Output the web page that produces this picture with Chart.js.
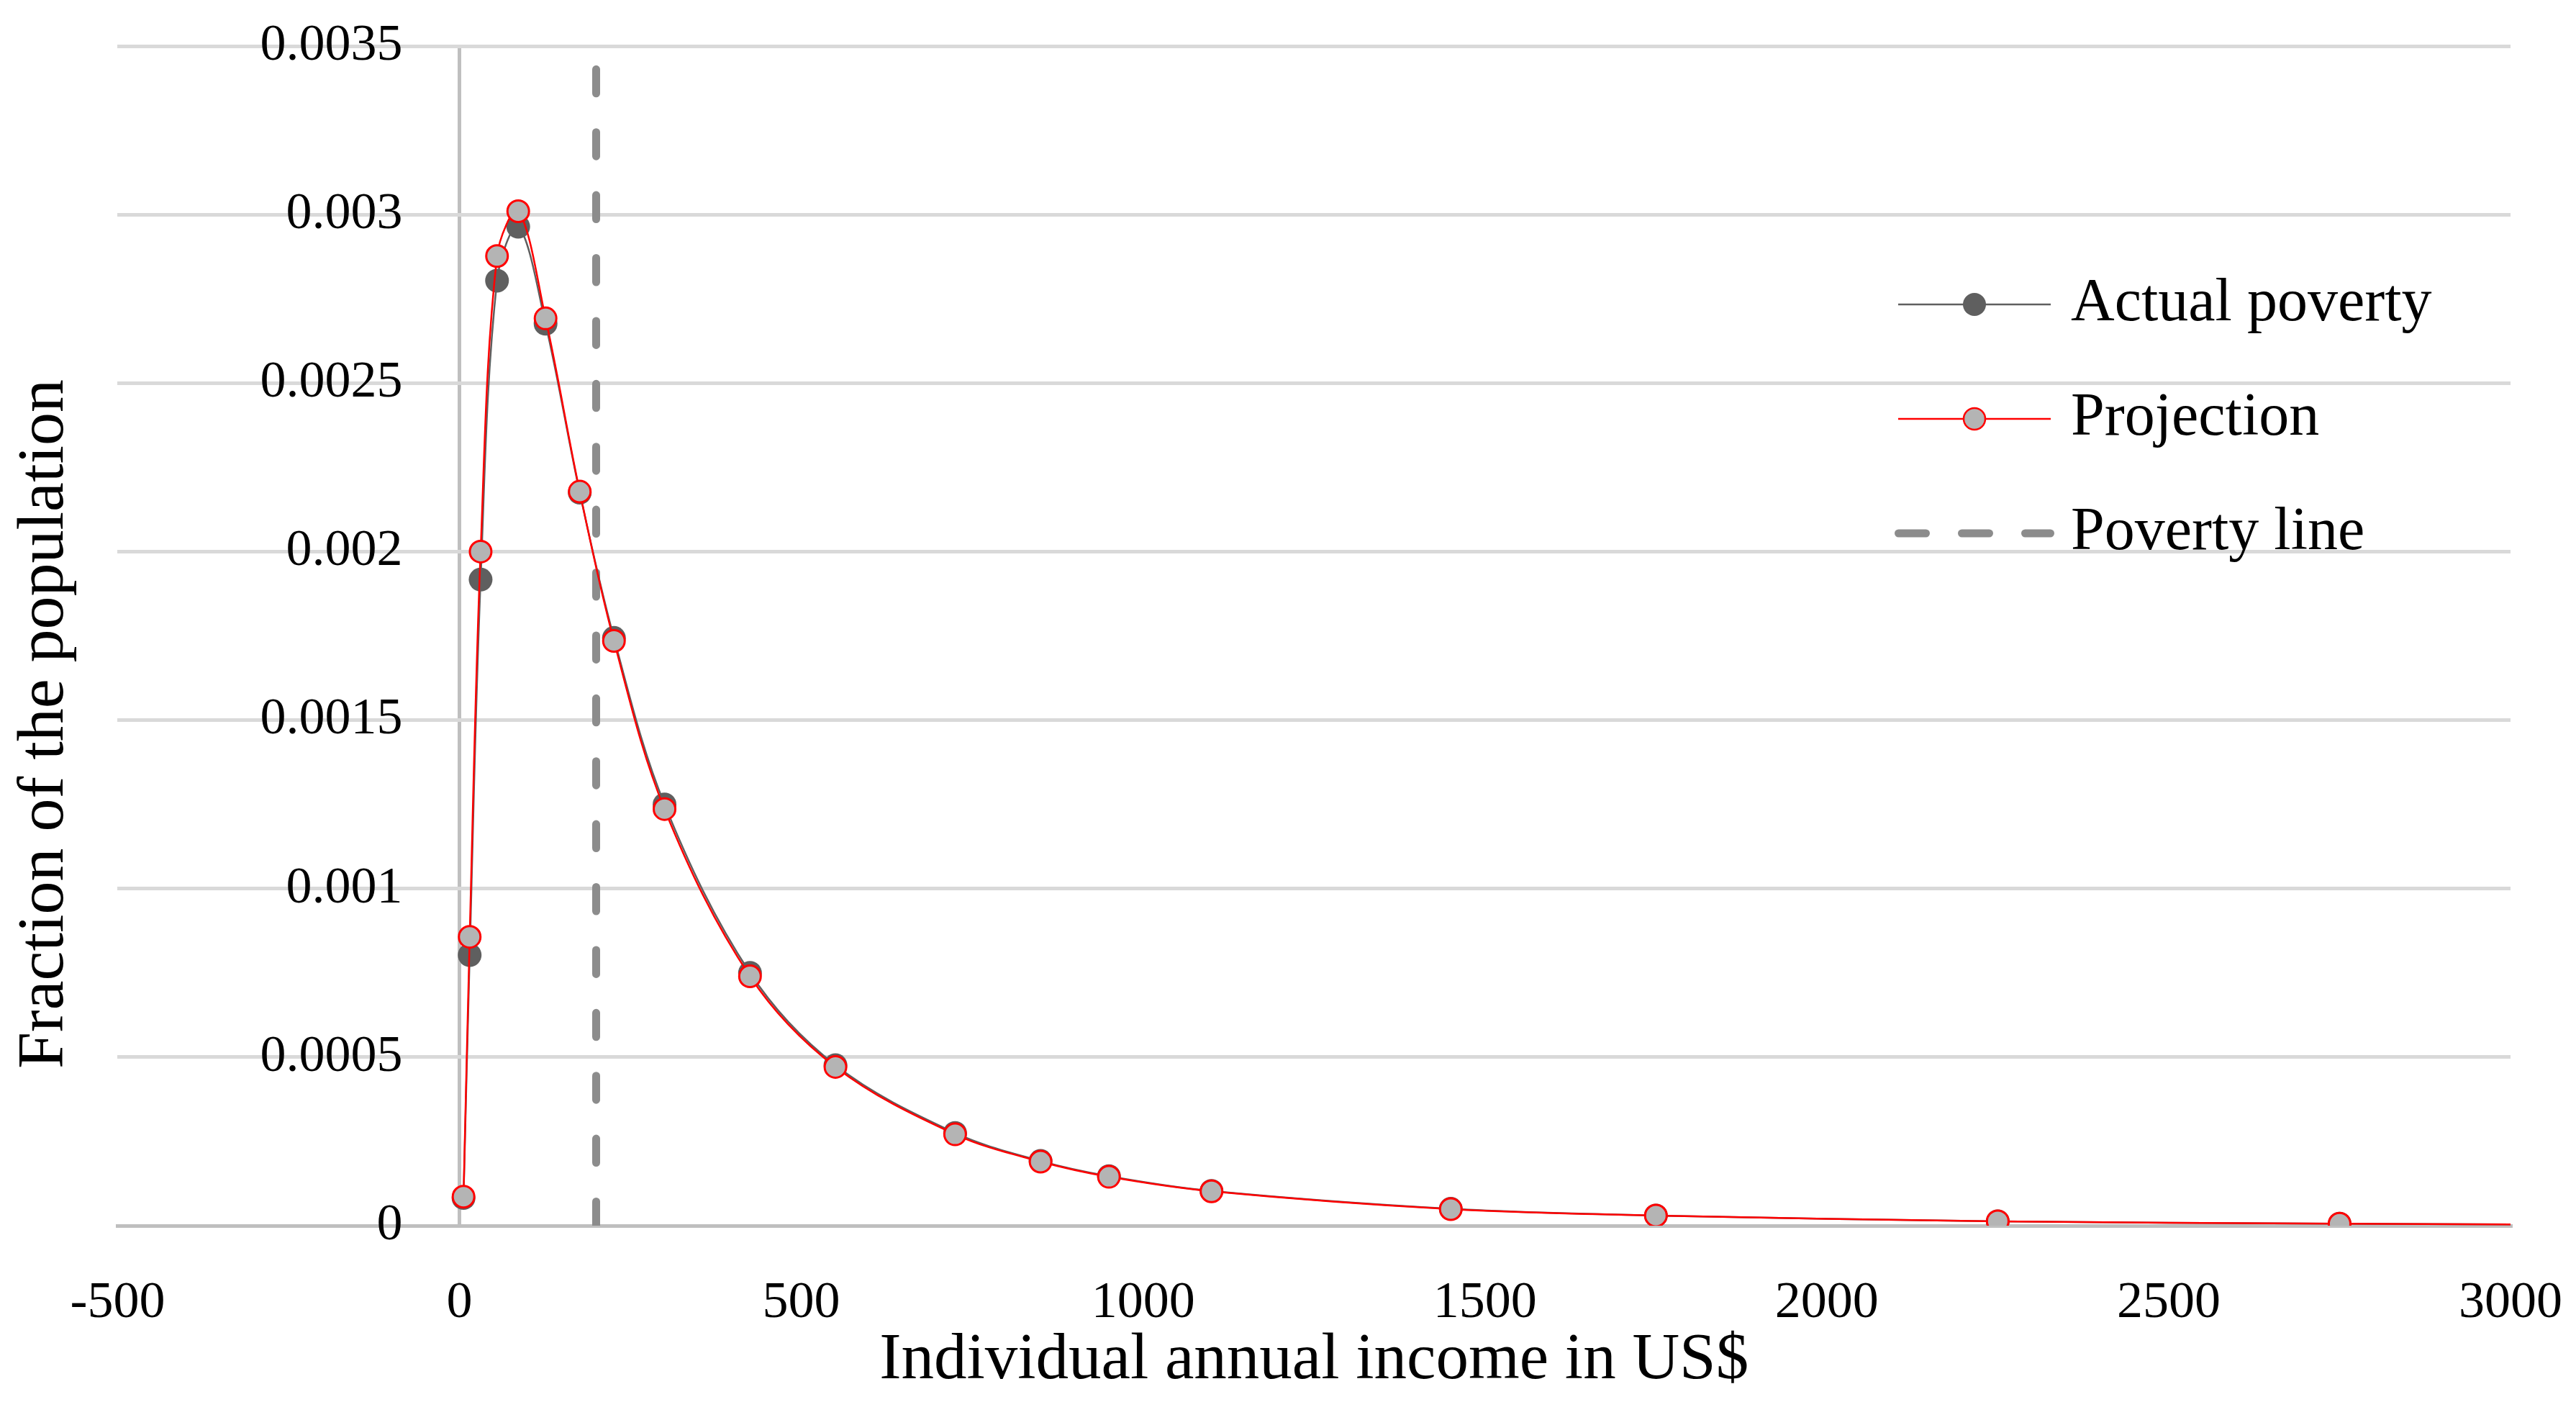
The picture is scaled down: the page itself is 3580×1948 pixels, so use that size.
<!DOCTYPE html>
<html>
<head>
<meta charset="utf-8">
<script src="https://cdn.jsdelivr.net/npm/chart.js@4.4.1/dist/chart.umd.min.js"></script>
<style>
  html, body { margin: 0; padding: 0; background: #fff; overflow: hidden; }
  #wrap { width: 3580px; height: 1948px; }
</style>
</head>
<body>
<div id="wrap"><canvas id="myChart"></canvas></div>
<script>
// income (US$) of each point and the fraction of the population
var incomeX = [6, 15, 31, 55, 86, 126, 176, 226, 300, 425, 550, 725, 850, 950, 1100, 1450, 1750, 2250, 2750, 3000];
var actualPoverty = [0.000082, 0.000803, 0.001917, 0.002804, 0.002964, 0.002676, 0.002175, 0.001744, 0.00125, 0.00075,
                     0.000476, 0.000275, 0.000192, 0.000147, 0.000103, 0.00005, 0.00003, 0.000013, 0.000006, 0.000004];
var projection = [0.000086, 0.000857, 0.002, 0.002877, 0.00301, 0.002692, 0.002178, 0.001735, 0.001236, 0.00074,
                  0.000471, 0.000271, 0.00019, 0.000145, 0.000102, 0.000049, 0.00003, 0.000013, 0.000006, 0.000004];
var povertyLineX = 200;
var povertyLineY = [0, 0.0035];

var xTickValues = [-500, 0, 500, 1000, 1500, 2000, 2500, 3000];
var xTickLabels = ["-500", "0", "500", "1000", "1500", "2000", "2500", "3000"];
var yTickValues = [0, 0.0005, 0.001, 0.0015, 0.002, 0.0025, 0.003, 0.0035];
var yTickLabels = ["0", "0.0005", "0.001", "0.0015", "0.002", "0.0025", "0.003", "0.0035"];
var seriesNames = ["Actual poverty", "Projection", "Poverty line"];

Chart.defaults.font.family = "'Liberation Serif', 'Times New Roman', serif";
Chart.defaults.color = "#000";

var lastIdx = incomeX.length - 1;

// little pictures for the legend (line + marker, dashed line)
function swatch(w, draw) {
  var c = document.createElement("canvas");
  c.width = w; c.height = 40;
  draw(c.getContext("2d"));
  return c;
}
var swActual = swatch(212, function (g) {
  g.strokeStyle = "#5f5f5f"; g.lineWidth = 2.5;
  g.beginPath(); g.moveTo(0, 20); g.lineTo(212, 20); g.stroke();
  g.fillStyle = "#5f5f5f";
  g.beginPath(); g.arc(106, 20, 16, 0, Math.PI * 2); g.fill();
});
var swProj = swatch(212, function (g) {
  g.strokeStyle = "#ff0000"; g.lineWidth = 2.5;
  g.beginPath(); g.moveTo(0, 20); g.lineTo(212, 20); g.stroke();
  g.fillStyle = "#b4b4b4";
  g.beginPath(); g.arc(106, 20, 15, 0, Math.PI * 2); g.fill(); g.stroke();
});
var swPov = swatch(222, function (g) {
  g.strokeStyle = "#8c8c8c"; g.lineWidth = 11; g.lineCap = "round";
  g.setLineDash([38, 50]);
  g.beginPath(); g.moveTo(5.5, 20); g.lineTo(216.5, 20); g.stroke();
});
var swatches = [swActual, swProj, swPov];

// put the legend inside the plot, on the right
var legendSpot = {
  id: "legendSpot",
  afterLayout: function (chart) {
    var lg = chart.legend;
    var a = chart.chartArea;
    lg.left = a.right - 912;
    lg.top = a.top + 242;
    lg.right = lg.left + lg.width;
    lg.bottom = lg.top + 900;
  }
};

new Chart("myChart", {
  type: "line",
  data: {
    datasets: [
      {
        label: seriesNames[0],
        data: incomeX.map(function (x, i) { return {x: x, y: actualPoverty[i]}; }),
        borderColor: "#5f5f5f",
        borderWidth: 2.5,
        pointBackgroundColor: "#5f5f5f",
        pointBorderColor: "#5f5f5f",
        pointBorderWidth: 0,
        pointRadius: function (c) { return c.dataIndex === lastIdx ? 0 : 16.5; },
        tension: 0.35,
        fill: false,
        order: 1
      },
      {
        label: seriesNames[1],
        data: incomeX.map(function (x, i) { return {x: x, y: projection[i]}; }),
        borderColor: "#ff0000",
        borderWidth: 2.5,
        pointBackgroundColor: "#b4b4b4",
        pointBorderColor: "#ff0000",
        pointBorderWidth: 3,
        pointRadius: function (c) { return c.dataIndex === lastIdx ? 0 : 15; },
        tension: 0.35,
        fill: false,
        order: 0
      },
      {
        label: seriesNames[2],
        data: povertyLineY.map(function (y) { return {x: povertyLineX, y: y}; }),
        borderColor: "#8c8c8c",
        borderWidth: 11,
        borderDash: [33.5, 53.9],
        borderCapStyle: "round",
        pointRadius: 0,
        fill: false,
        order: 2
      }
    ]
  },
  options: {
    responsive: true,
    maintainAspectRatio: false,
    animation: false,
    layout: {padding: {top: 64, right: 91, bottom: 0, left: 0}},
    plugins: {
      tooltip: {enabled: false},
      legend: {
        position: "chartArea",
        align: "start",
        labels: {
          usePointStyle: true,
          pointStyleWidth: 184,
          padding: 75,
          color: "#000",
          font: {size: 84},
          generateLabels: function (chart) {
            return seriesNames.map(function (n, i) {
              return {text: n, pointStyle: swatches[i], datasetIndex: i, hidden: false,
                      lineWidth: 0, fillStyle: "#fff", strokeStyle: "#fff", fontColor: "#000"};
            });
          }
        }
      }
    },
    scales: {
      x: {
        type: "linear",
        min: -500,
        max: 3000,
        afterBuildTicks: function (s) { s.ticks = xTickValues.map(function (v) { return {value: v}; }); },
        afterFit: function (s) { s.height = 245; s.paddingLeft = 80; s.paddingRight = 80; },
        ticks: {
          padding: 65,
          font: {size: 72},
          callback: function (v, i) { return xTickLabels[i]; }
        },
        grid: {
          drawTicks: false,
          lineWidth: 5,
          color: function (c) { return c.tick && c.tick.value === 0 ? "#bfbfbf" : "rgba(0,0,0,0)"; }
        },
        border: {display: true, color: "#bfbfbf", width: 5},
        title: {
          display: true,
          text: "Individual annual income in US$",
          font: {size: 91},
          padding: {top: 0, bottom: 2}
        }
      },
      y: {
        type: "linear",
        position: "left",
        weight: 0,
        min: 0,
        max: 0.0035,
        afterBuildTicks: function (s) { s.ticks = yTickValues.map(function (v) { return {value: v}; }); },
        afterFit: function (s) { s.width = 45; s.paddingTop = 45; s.paddingBottom = 45; },
        ticks: {
          mirror: true,
          crossAlign: "far",
          padding: 198,
          font: {size: 72},
          callback: function (v, i) { return yTickLabels[i]; }
        },
        grid: {
          drawTicks: false,
          lineWidth: 5,
          color: function (c) { return c.tick && c.tick.value === 0 ? "#bfbfbf" : "#d9d9d9"; }
        },
        border: {display: false}
      },
      yTitle: {
        type: "linear",
        axis: "y",
        position: "left",
        weight: 10,
        fullSize: true,
        ticks: {display: false},
        grid: {display: false, drawTicks: false},
        border: {display: false},
        title: {
          display: true,
          text: "Fraction of the population",
          font: {size: 92},
          padding: {top: 8, bottom: 0}
        }
      }
    }
  },
  plugins: [legendSpot]
});
</script>
</body>
</html>
